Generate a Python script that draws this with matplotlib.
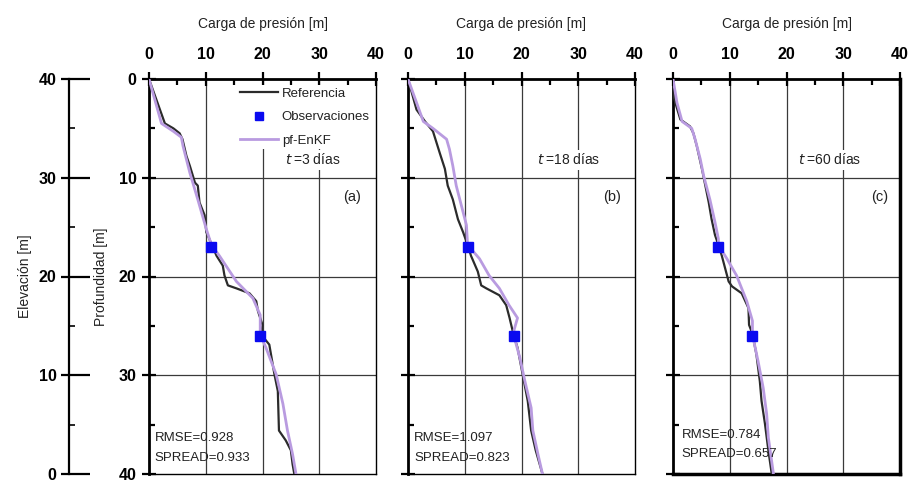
import matplotlib
matplotlib.use("Agg")
import matplotlib.pyplot as plt
from matplotlib.ticker import MultipleLocator

plt.rcParams['font.family'] = ['Liberation Sans', 'DejaVu Sans']

# --- data: pressure head [m] versus depth [m] ---
ref_a_depth = [0, 4.5, 5.0, 5.5, 6.1, 7.8, 8.8, 10.5, 10.8, 12.5, 13.8, 15.5, 17.9, 18.9,
               19.9, 20.9, 21.2, 21.7, 22.5, 23.5, 24.9, 25.9, 26.9, 29.9, 31.6, 35.6,
               36.6, 37.6, 39.0, 40]
ref_a_head = [0, 2.8, 4.3, 5.4, 5.9, 6.6, 7.2, 8.1, 8.6, 8.9, 9.8, 10.1, 11.9, 13.0,
              13.3, 13.9, 15.4, 17.7, 18.9, 19.2, 20.0, 19.8, 21.2, 22.1, 22.7, 22.9,
              24.1, 25.0, 25.3, 25.6]
pf_a_depth = [0, 4.5, 5.3, 5.9, 6.8, 9.5, 12.2, 15.2, 16.8, 17.9, 20.5, 22.2, 23.9, 25.9,
              27.2, 29.9, 32.9, 35.6, 38.0, 40]
pf_a_head = [0, 2.2, 4.3, 5.7, 6.0, 7.2, 8.6, 10.1, 11.0, 12.4, 15.4, 18.3, 19.6, 19.6,
             20.6, 22.4, 23.6, 24.4, 25.3, 25.9]

ref_b_depth = [0, 3.1, 4.3, 5.3, 7.5, 9.1, 10.8, 12.2, 14.2, 15.5, 16.8, 17.9, 19.5, 20.9,
               21.2, 21.9, 22.9, 24.2, 25.9, 27.2, 29.9, 32.6, 35.6, 37.6, 40]
ref_b_head = [0, 1.5, 3.0, 4.4, 5.6, 6.5, 7.0, 7.9, 8.8, 9.7, 10.5, 11.1, 12.3, 12.9,
              13.8, 16.1, 17.3, 17.9, 18.6, 19.3, 20.2, 21.1, 21.7, 22.5, 23.7]
pf_b_depth = [0, 4.3, 5.0, 6.1, 7.1, 8.8, 10.8, 12.8, 14.8, 16.8, 18.2, 19.9, 21.2, 22.9,
              24.2, 25.4, 25.9, 28.2, 30.6, 33.3, 35.6, 38.0, 40]
pf_b_head = [0, 2.7, 4.4, 6.8, 7.3, 7.9, 8.5, 9.4, 10.3, 10.5, 12.6, 14.3, 16.1, 17.8,
             19.3, 18.7, 18.6, 19.7, 20.6, 21.7, 22.0, 22.9, 23.7]

ref_c_depth = [0, 1.1, 2.4, 4.1, 4.8, 5.5, 6.8, 9.1, 10.8, 12.5, 14.2, 15.8, 16.8, 17.9,
               19.2, 20.5, 21.0, 21.7, 23.2, 24.9, 25.8, 27.9, 30.6, 32.6, 34.9, 37.6, 40]
ref_c_head = [0, -0.2, 0.4, 1.3, 3.0, 3.6, 4.2, 5.1, 5.7, 6.3, 6.8, 7.4, 8.0, 8.6,
              9.2, 9.8, 10.4, 12.1, 13.3, 13.4, 14.0, 14.7, 15.3, 15.6, 16.2, 16.8, 17.4]
pf_c_depth = [0, 2.4, 4.3, 5.0, 6.1, 8.1, 9.8, 12.2, 14.5, 16.2, 16.8, 18.2, 19.9, 22.5,
              24.5, 25.9, 28.6, 31.3, 33.9, 36.3, 40]
pf_c_head = [0, 0.7, 1.6, 3.3, 3.9, 4.8, 5.4, 6.5, 7.4, 8.0, 8.0, 9.5, 11.2, 13.0,
             14.0, 14.0, 15.0, 15.9, 16.5, 16.8, 17.7]

obs_depth = [17, 26]
obs_a_head = [11.0, 19.6]
obs_b_head = [10.5, 18.6]
obs_c_head = [8.0, 14.0]

times = ["3", "18", "60"]
panel_tags = ["(a)", "(b)", "(c)"]
rmse_vals = ["0.928", "1.097", "0.784"]
spread_vals = ["0.933", "0.823", "0.657"]

x_ticks = [0, 10, 20, 30, 40]
depth_ticks = [0, 10, 20, 30, 40]
elev_ticks = [0, 10, 20, 30, 40]

REF_COLOR = "#2b2b2b"
PF_COLOR = "#b99be0"
OBS_COLOR = "#0a0af0"
TXT = "#222222"

W, H = 911, 483
fig = plt.figure(figsize=(W / 100, H / 100), dpi=100)

panels = [
    (149, ref_a_depth, ref_a_head, pf_a_depth, pf_a_head, obs_a_head, 1.0, (1.0, 36.4)),
    (408, ref_b_depth, ref_b_head, pf_b_depth, pf_b_head, obs_b_head, 1.0, (1.1, 36.4)),
    (673, ref_c_depth, ref_c_head, pf_c_depth, pf_c_head, obs_c_head, 2.5, (1.5, 36.0)),
]
top_px, bot_px, width_px = 79, 474, 227

axes = []
for i, (left_px, rd, rh, pd_, ph, oh, edge_lw, stat_pos) in enumerate(panels):
    ax = fig.add_axes([left_px / W, 1 - bot_px / H, width_px / W, (bot_px - top_px) / H])
    axes.append(ax)
    ax.set_xlim(0, 40)
    ax.set_ylim(40, 0)
    ax.xaxis.tick_top()
    ax.xaxis.set_label_position('top')
    ax.set_xticks(x_ticks)
    ax.set_yticks(depth_ticks)
    ax.xaxis.set_minor_locator(MultipleLocator(5))
    ax.yaxis.set_minor_locator(MultipleLocator(5))
    ax.tick_params(which='major', direction='inout', length=10, width=1.6, color='black')
    ax.tick_params(which='minor', direction='in', length=4, width=1.6, color='black')
    ax.tick_params(axis='x', which='major', labelsize=11.5, pad=7, labelcolor='black')
    ax.tick_params(axis='y', which='major', labelsize=11.5, pad=4, labelcolor='black')
    for lab in ax.get_xticklabels() + ax.get_yticklabels():
        lab.set_fontweight('bold')
    if i > 0:
        ax.set_yticklabels([])
    ax.spines['top'].set_linewidth(2)
    ax.spines['left'].set_linewidth(2)
    ax.spines['right'].set_linewidth(edge_lw)
    ax.spines['bottom'].set_linewidth(edge_lw)
    for v in [10, 20, 30]:
        ax.axvline(v, color='#3a3a3a', lw=0.9, zorder=1)
        ax.axhline(v, color='#3a3a3a', lw=0.9, zorder=1)

    ax.plot(rh, rd, color=REF_COLOR, lw=1.6, label="Referencia", zorder=3)
    ax.plot(oh, obs_depth, ls='none', marker='s', ms=7, color=OBS_COLOR,
            label="Observaciones", zorder=5)
    ax.plot(ph, pd_, color=PF_COLOR, lw=2.0, label="pf-EnKF", zorder=4)

    ax.set_xlabel("Carga de presión [m]", fontsize=10, color=TXT, labelpad=14)

    t_x = [28.8, 28.3, 27.6][i]
    ax.text(t_x, 8.2, r"$t$" + "\u2009=" + times[i] + " días", fontsize=10, color=TXT,
            ha='center', va='center', zorder=6,
            bbox=dict(facecolor='white', edgecolor='none', pad=1.5))
    tag_x = [35.8, 36.0, 36.5][i]
    ax.text(tag_x, 11.9, panel_tags[i], fontsize=10.5, color=TXT, ha='center', va='center',
            zorder=6)
    sx, sy = stat_pos
    ax.text(sx, sy, "RMSE=" + rmse_vals[i], fontsize=9.5, color=TXT, ha='left', va='center',
            zorder=6)
    ax.text(sx, sy + 2.0, "SPREAD=" + spread_vals[i], fontsize=9.5, color=TXT, ha='left',
            va='center', zorder=6)

leg = axes[0].legend(loc='upper left', bbox_to_anchor=(0.39, 0.985), frameon=True,
                     fontsize=9.5, handlelength=2.9, handletextpad=0.25, borderpad=0.2,
                     labelspacing=0.85, borderaxespad=0, markerscale=0.85)
leg.get_frame().set_facecolor('white')
leg.get_frame().set_edgecolor('none')
leg.get_frame().set_alpha(1)
leg.set_zorder(7)
for t in leg.get_texts():
    t.set_color(TXT)

axes[0].set_ylabel("Profundidad [m]", fontsize=10, color=TXT, labelpad=8)

# elevation scale on the far left
eax = fig.add_axes([69 / W, 1 - bot_px / H, 0.0001, (bot_px - top_px) / H])
eax.set_ylim(0, 40)
eax.set_xticks([])
eax.set_yticks(elev_ticks)
eax.yaxis.set_minor_locator(MultipleLocator(5))
for s in ['top', 'bottom', 'right']:
    eax.spines[s].set_visible(False)
eax.spines['left'].set_linewidth(1.6)
eax.tick_params(axis='y', which='major', left=True, right=True, direction='out',
                length=6, width=1.6, labelsize=11.5, pad=3)
eax.tick_params(axis='y', which='minor', left=False, right=True, direction='out',
                length=4, width=1.2)
for tk in eax.yaxis.get_major_ticks():
    tk.tick2line.set_markersize(15)
for lab in eax.get_yticklabels():
    lab.set_fontweight('bold')
eax.set_ylabel("Elevación [m]", fontsize=10, color=TXT, labelpad=5)

fig.savefig("out.png", dpi=100)
